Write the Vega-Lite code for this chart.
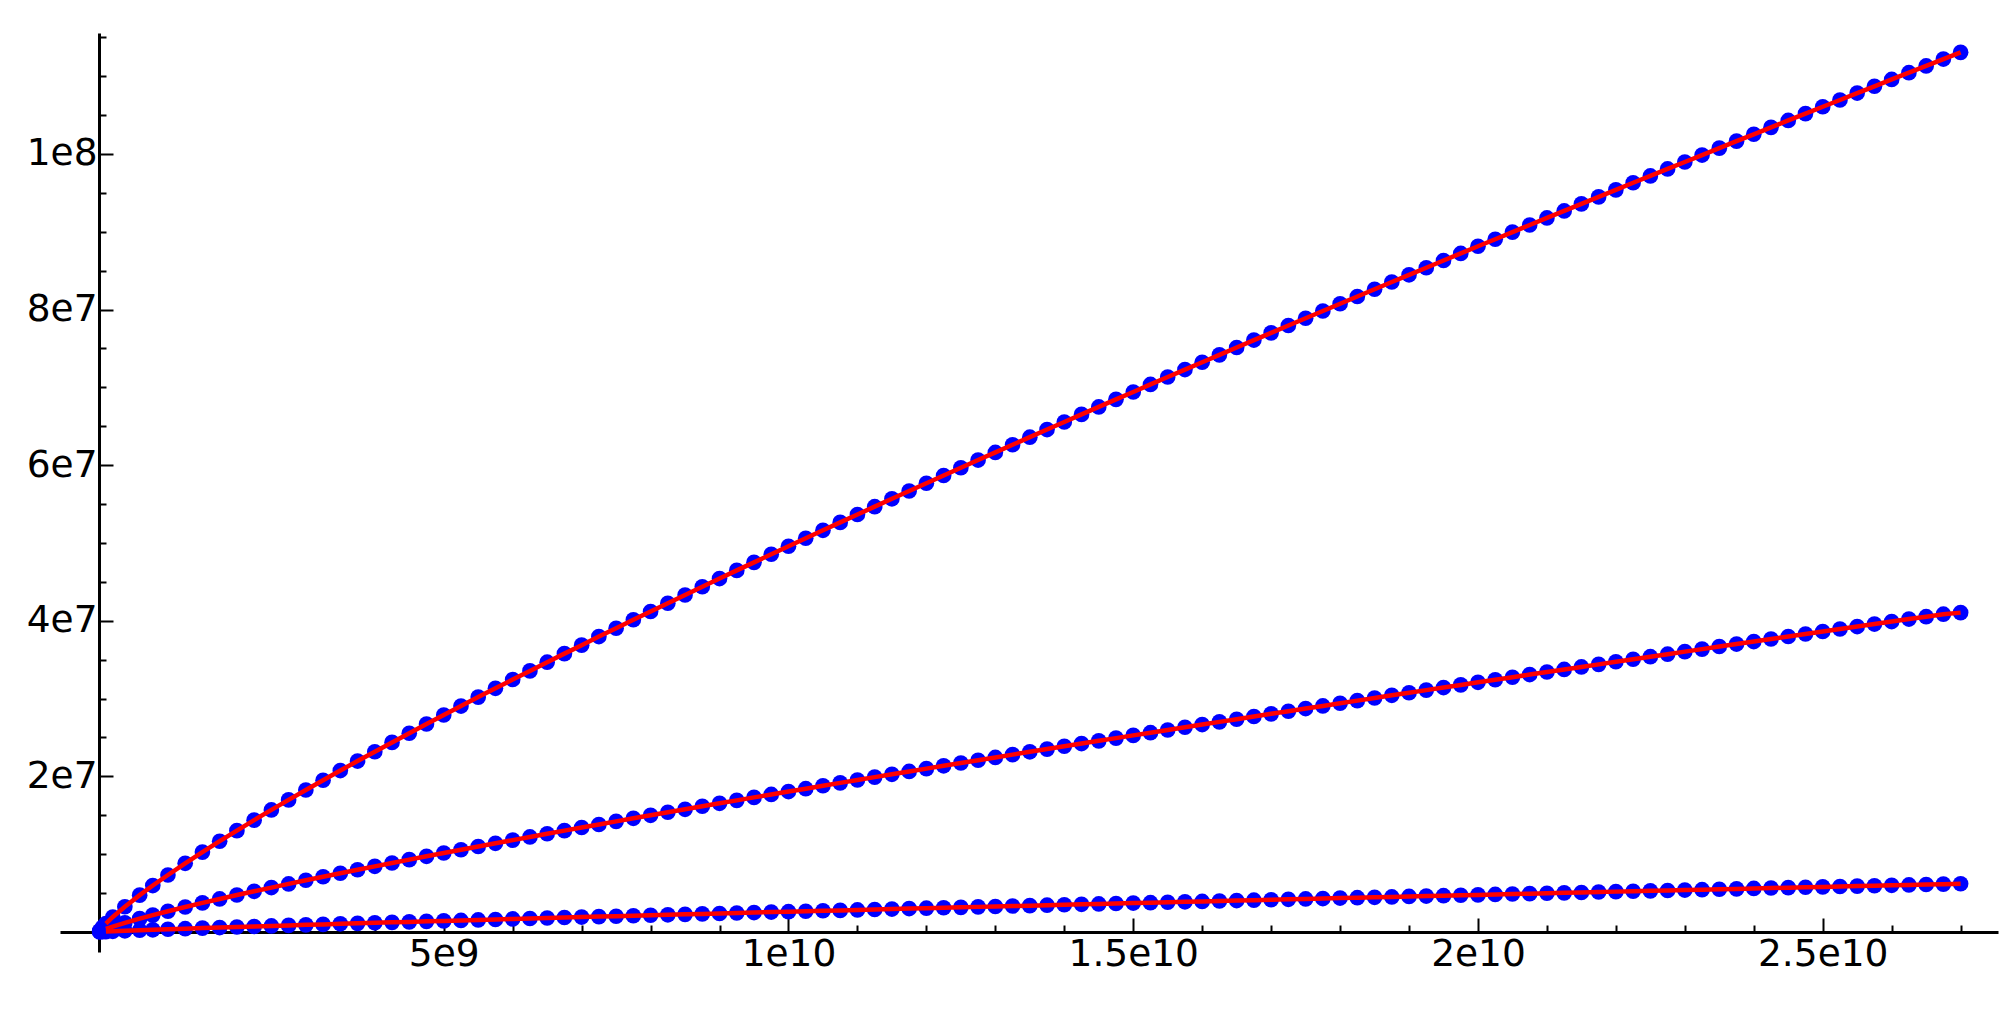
{
  "$schema": "https://vega.github.io/schema/vega-lite/v6.json",
  "width": 1938,
  "height": 919,
  "autosize": {"type": "none"},
  "padding": {"left": 60, "top": 33, "right": 13, "bottom": 60},
  "background": "white",
  "config": {"view": {"stroke": null}},
  "data": {"values": [
    {"x": 1e7, "a": 0.16e6, "b": 0.06e6, "c": 0.01e6},
    {"x": 5e7, "a": 0.61e6, "b": 0.22e6, "c": 0.03e6},
    {"x": 1e8, "a": 1.08e6, "b": 0.39e6, "c": 0.05e6},
    {"x": 2e8, "a": 1.93e6, "b": 0.70e6, "c": 0.09e6},
    {"x": 3.75e8, "a": 3.24e6, "b": 1.18e6, "c": 0.15e6},
    {"x": 5.9e8, "a": 4.74e6, "b": 1.72e6, "c": 0.22e6},
    {"x": 7.8e8, "a": 5.97e6, "b": 2.17e6, "c": 0.28e6},
    {"x": 1e9, "a": 7.33e6, "b": 2.67e6, "c": 0.35e6},
    {"x": 1.25e9, "a": 8.83e6, "b": 3.21e6, "c": 0.43e6},
    {"x": 1.5e9, "a": 10.27e6, "b": 3.74e6, "c": 0.50e6},
    {"x": 1.75e9, "a": 11.67e6, "b": 4.25e6, "c": 0.57e6},
    {"x": 2e9, "a": 13.03e6, "b": 4.75e6, "c": 0.64e6},
    {"x": 2.25e9, "a": 14.38e6, "b": 5.23e6, "c": 0.71e6},
    {"x": 2.5e9, "a": 15.69e6, "b": 5.71e6, "c": 0.78e6},
    {"x": 2.75e9, "a": 16.98e6, "b": 6.18e6, "c": 0.85e6},
    {"x": 3e9, "a": 18.25e6, "b": 6.65e6, "c": 0.92e6},
    {"x": 3.25e9, "a": 19.50e6, "b": 7.10e6, "c": 0.98e6},
    {"x": 3.5e9, "a": 20.75e6, "b": 7.55e6, "c": 1.05e6},
    {"x": 3.75e9, "a": 21.97e6, "b": 8.00e6, "c": 1.11e6},
    {"x": 4e9, "a": 23.17e6, "b": 8.44e6, "c": 1.18e6},
    {"x": 4.25e9, "a": 24.37e6, "b": 8.87e6, "c": 1.24e6},
    {"x": 4.5e9, "a": 25.55e6, "b": 9.30e6, "c": 1.30e6},
    {"x": 4.75e9, "a": 26.73e6, "b": 9.73e6, "c": 1.37e6},
    {"x": 5e9, "a": 27.89e6, "b": 10.15e6, "c": 1.43e6},
    {"x": 5.25e9, "a": 29.04e6, "b": 10.57e6, "c": 1.49e6},
    {"x": 5.5e9, "a": 30.19e6, "b": 10.99e6, "c": 1.55e6},
    {"x": 5.75e9, "a": 31.32e6, "b": 11.40e6, "c": 1.61e6},
    {"x": 6e9, "a": 32.45e6, "b": 11.81e6, "c": 1.68e6},
    {"x": 6.25e9, "a": 33.56e6, "b": 12.22e6, "c": 1.74e6},
    {"x": 6.5e9, "a": 34.68e6, "b": 12.63e6, "c": 1.80e6},
    {"x": 6.75e9, "a": 35.78e6, "b": 13.03e6, "c": 1.86e6},
    {"x": 7e9, "a": 36.87e6, "b": 13.43e6, "c": 1.92e6},
    {"x": 7.25e9, "a": 37.97e6, "b": 13.82e6, "c": 1.98e6},
    {"x": 7.5e9, "a": 39.04e6, "b": 14.22e6, "c": 2.03e6},
    {"x": 7.75e9, "a": 40.13e6, "b": 14.61e6, "c": 2.09e6},
    {"x": 8e9, "a": 41.19e6, "b": 15.00e6, "c": 2.15e6},
    {"x": 8.25e9, "a": 42.26e6, "b": 15.39e6, "c": 2.21e6},
    {"x": 8.5e9, "a": 43.32e6, "b": 15.77e6, "c": 2.27e6},
    {"x": 8.75e9, "a": 44.38e6, "b": 16.16e6, "c": 2.33e6},
    {"x": 9e9, "a": 45.43e6, "b": 16.54e6, "c": 2.38e6},
    {"x": 9.25e9, "a": 46.48e6, "b": 16.92e6, "c": 2.44e6},
    {"x": 9.5e9, "a": 47.51e6, "b": 17.30e6, "c": 2.50e6},
    {"x": 9.75e9, "a": 48.55e6, "b": 17.68e6, "c": 2.56e6},
    {"x": 1e10, "a": 49.58e6, "b": 18.05e6, "c": 2.61e6},
    {"x": 1.025e10, "a": 50.61e6, "b": 18.42e6, "c": 2.67e6},
    {"x": 1.05e10, "a": 51.63e6, "b": 18.80e6, "c": 2.73e6},
    {"x": 1.075e10, "a": 52.65e6, "b": 19.17e6, "c": 2.78e6},
    {"x": 1.1e10, "a": 53.66e6, "b": 19.54e6, "c": 2.84e6},
    {"x": 1.125e10, "a": 54.67e6, "b": 19.91e6, "c": 2.89e6},
    {"x": 1.15e10, "a": 55.68e6, "b": 20.27e6, "c": 2.95e6},
    {"x": 1.175e10, "a": 56.68e6, "b": 20.64e6, "c": 3.01e6},
    {"x": 1.2e10, "a": 57.68e6, "b": 21.00e6, "c": 3.06e6},
    {"x": 1.225e10, "a": 58.68e6, "b": 21.36e6, "c": 3.12e6},
    {"x": 1.25e10, "a": 59.67e6, "b": 21.72e6, "c": 3.17e6},
    {"x": 1.275e10, "a": 60.66e6, "b": 22.08e6, "c": 3.23e6},
    {"x": 1.3e10, "a": 61.64e6, "b": 22.44e6, "c": 3.28e6},
    {"x": 1.325e10, "a": 62.63e6, "b": 22.80e6, "c": 3.34e6},
    {"x": 1.35e10, "a": 63.60e6, "b": 23.16e6, "c": 3.39e6},
    {"x": 1.375e10, "a": 64.58e6, "b": 23.51e6, "c": 3.45e6},
    {"x": 1.4e10, "a": 65.55e6, "b": 23.87e6, "c": 3.50e6},
    {"x": 1.425e10, "a": 66.53e6, "b": 24.22e6, "c": 3.56e6},
    {"x": 1.45e10, "a": 67.49e6, "b": 24.57e6, "c": 3.61e6},
    {"x": 1.475e10, "a": 68.46e6, "b": 24.92e6, "c": 3.66e6},
    {"x": 1.5e10, "a": 69.41e6, "b": 25.27e6, "c": 3.72e6},
    {"x": 1.525e10, "a": 70.38e6, "b": 25.62e6, "c": 3.77e6},
    {"x": 1.55e10, "a": 71.33e6, "b": 25.97e6, "c": 3.83e6},
    {"x": 1.575e10, "a": 72.29e6, "b": 26.32e6, "c": 3.88e6},
    {"x": 1.6e10, "a": 73.23e6, "b": 26.66e6, "c": 3.93e6},
    {"x": 1.625e10, "a": 74.18e6, "b": 27.01e6, "c": 3.99e6},
    {"x": 1.65e10, "a": 75.13e6, "b": 27.35e6, "c": 4.04e6},
    {"x": 1.675e10, "a": 76.08e6, "b": 27.70e6, "c": 4.09e6},
    {"x": 1.7e10, "a": 77.01e6, "b": 28.04e6, "c": 4.15e6},
    {"x": 1.725e10, "a": 77.95e6, "b": 28.38e6, "c": 4.20e6},
    {"x": 1.75e10, "a": 78.89e6, "b": 28.72e6, "c": 4.25e6},
    {"x": 1.775e10, "a": 79.82e6, "b": 29.06e6, "c": 4.30e6},
    {"x": 1.8e10, "a": 80.75e6, "b": 29.40e6, "c": 4.36e6},
    {"x": 1.825e10, "a": 81.68e6, "b": 29.74e6, "c": 4.41e6},
    {"x": 1.85e10, "a": 82.61e6, "b": 30.08e6, "c": 4.46e6},
    {"x": 1.875e10, "a": 83.54e6, "b": 30.42e6, "c": 4.51e6},
    {"x": 1.9e10, "a": 84.47e6, "b": 30.75e6, "c": 4.57e6},
    {"x": 1.925e10, "a": 85.38e6, "b": 31.09e6, "c": 4.62e6},
    {"x": 1.95e10, "a": 86.31e6, "b": 31.42e6, "c": 4.67e6},
    {"x": 1.975e10, "a": 87.22e6, "b": 31.76e6, "c": 4.72e6},
    {"x": 2e10, "a": 88.14e6, "b": 32.09e6, "c": 4.77e6},
    {"x": 2.025e10, "a": 89.04e6, "b": 32.42e6, "c": 4.83e6},
    {"x": 2.05e10, "a": 89.96e6, "b": 32.75e6, "c": 4.88e6},
    {"x": 2.075e10, "a": 90.87e6, "b": 33.09e6, "c": 4.93e6},
    {"x": 2.1e10, "a": 91.78e6, "b": 33.42e6, "c": 4.98e6},
    {"x": 2.125e10, "a": 92.68e6, "b": 33.75e6, "c": 5.03e6},
    {"x": 2.15e10, "a": 93.59e6, "b": 34.07e6, "c": 5.08e6},
    {"x": 2.175e10, "a": 94.49e6, "b": 34.40e6, "c": 5.14e6},
    {"x": 2.2e10, "a": 95.39e6, "b": 34.73e6, "c": 5.19e6},
    {"x": 2.225e10, "a": 96.30e6, "b": 35.06e6, "c": 5.24e6},
    {"x": 2.25e10, "a": 97.18e6, "b": 35.39e6, "c": 5.29e6},
    {"x": 2.275e10, "a": 98.08e6, "b": 35.71e6, "c": 5.34e6},
    {"x": 2.3e10, "a": 98.97e6, "b": 36.04e6, "c": 5.39e6},
    {"x": 2.325e10, "a": 99.86e6, "b": 36.36e6, "c": 5.44e6},
    {"x": 2.35e10, "a": 100.75e6, "b": 36.69e6, "c": 5.49e6},
    {"x": 2.375e10, "a": 101.65e6, "b": 37.01e6, "c": 5.54e6},
    {"x": 2.4e10, "a": 102.53e6, "b": 37.33e6, "c": 5.60e6},
    {"x": 2.425e10, "a": 103.42e6, "b": 37.66e6, "c": 5.65e6},
    {"x": 2.45e10, "a": 104.31e6, "b": 37.98e6, "c": 5.70e6},
    {"x": 2.475e10, "a": 105.19e6, "b": 38.30e6, "c": 5.75e6},
    {"x": 2.5e10, "a": 106.07e6, "b": 38.62e6, "c": 5.80e6},
    {"x": 2.525e10, "a": 106.94e6, "b": 38.94e6, "c": 5.85e6},
    {"x": 2.55e10, "a": 107.83e6, "b": 39.26e6, "c": 5.90e6},
    {"x": 2.575e10, "a": 108.70e6, "b": 39.58e6, "c": 5.95e6},
    {"x": 2.6e10, "a": 109.58e6, "b": 39.90e6, "c": 6.00e6},
    {"x": 2.625e10, "a": 110.45e6, "b": 40.22e6, "c": 6.05e6},
    {"x": 2.65e10, "a": 111.32e6, "b": 40.53e6, "c": 6.10e6},
    {"x": 2.675e10, "a": 112.20e6, "b": 40.85e6, "c": 6.15e6},
    {"x": 2.7e10, "a": 113.06e6, "b": 41.05e6, "c": 6.20e6}
  ]},
  "transform": [{"fold": ["a", "b", "c"], "as": ["series", "y"]}],
  "encoding": {
    "x": {
      "field": "x", "type": "quantitative",
      "scale": {"domain": [-565600000, 27542000000], "nice": false, "zero": false},
      "axis": {
        "orient": "bottom", "offset": -20, "title": null, "grid": false,
        "values": [1e9, 2e9, 3e9, 4e9, 5e9, 6e9, 7e9, 8e9, 9e9, 1e10, 1.1e10, 1.2e10, 1.3e10, 1.4e10, 1.5e10, 1.6e10, 1.7e10, 1.8e10, 1.9e10, 2e10, 2.1e10, 2.2e10, 2.3e10, 2.4e10, 2.5e10, 2.6e10, 2.7e10],
        "domainColor": "black", "domainWidth": 3,
        "tickColor": "black", "tickWidth": 2,
        "tickSize": {"condition": {"test": "datum.value % 5000000000 === 0", "value": -14}, "value": -7},
        "labelExpr": "datum.value % 5000000000 === 0 ? replace(format(datum.value, '~e'), '+', '') : ''",
        "labelFont": "DejaVu Sans", "labelFontSize": 37.5, "labelColor": "black",
        "labelPadding": 17, "labelOverlap": false, "labelFlush": false, "labelBound": false
      }
    },
    "y": {
      "field": "y", "type": "quantitative",
      "scale": {"domain": [-2570000, 115550000], "nice": false, "zero": false},
      "axis": {
        "orient": "left", "offset": -39, "title": null, "grid": false,
        "values": [5e6, 1e7, 1.5e7, 2e7, 2.5e7, 3e7, 3.5e7, 4e7, 4.5e7, 5e7, 5.5e7, 6e7, 6.5e7, 7e7, 7.5e7, 8e7, 8.5e7, 9e7, 9.5e7, 1e8, 1.05e8, 1.1e8, 1.15e8],
        "domainColor": "black", "domainWidth": 3,
        "tickColor": "black", "tickWidth": 2,
        "tickSize": {"condition": {"test": "datum.value % 20000000 === 0", "value": -14}, "value": -7},
        "labelExpr": "datum.value % 20000000 === 0 ? replace(format(datum.value, '~e'), '+', '') : ''",
        "labelFont": "DejaVu Sans", "labelFontSize": 37.5, "labelColor": "black",
        "labelPadding": 16, "labelOverlap": false, "labelFlush": false, "labelBound": false
      }
    }
  },
  "layer": [
    {
      "mark": {"type": "point", "filled": true, "size": 245, "color": "#0000ff", "opacity": 1, "clip": false},
      "encoding": {"detail": {"field": "series"}}
    },
    {
      "transform": [{"filter": "datum.x >= 100000000"}],
      "mark": {"type": "line", "color": "#ff0000", "strokeWidth": 4.5, "clip": false},
      "encoding": {"detail": {"field": "series"}}
    }
  ]
}
